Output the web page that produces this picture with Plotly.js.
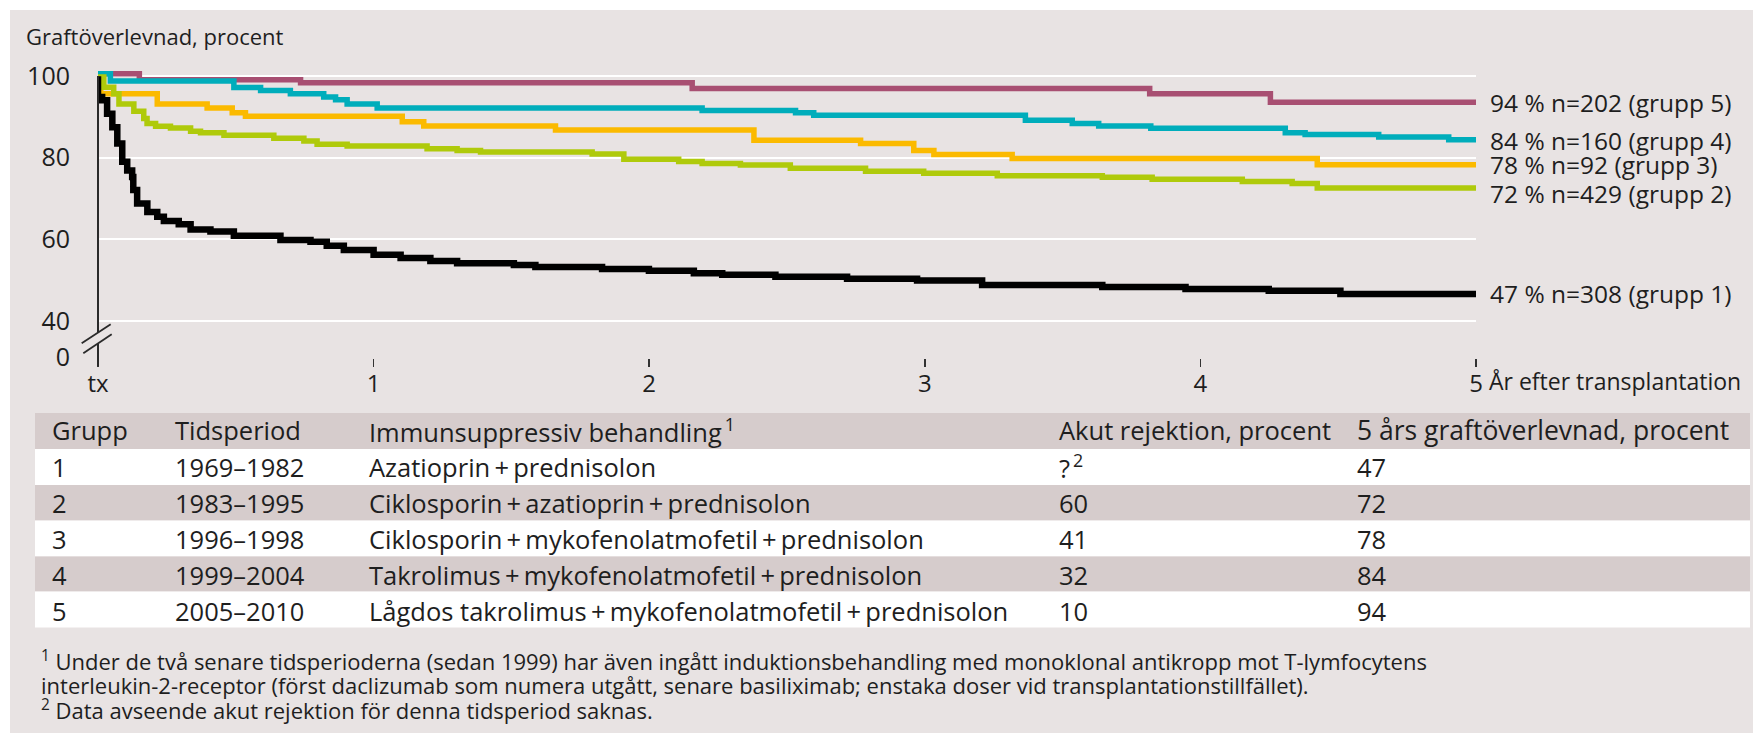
<!DOCTYPE html>
<html><head><meta charset="utf-8">
<script src="https://cdn.plot.ly/plotly-3.0.1.min.js"></script>
<style>html,body{margin:0;padding:0;background:#fff;}#chart{width:1753px;height:736px;}</style>
</head><body><div id="chart"></div>
<script>
// ---------------- DATA ----------------
const groups = ['1', '2', '3', '4', '5'];
const periods = ['1969–1982', '1983–1995', '1996–1998', '1999–2004', '2005–2010'];
const treatments = [
  'Azatioprin\u2009+\u2009prednisolon',
  'Ciklosporin\u2009+\u2009azatioprin\u2009+\u2009prednisolon',
  'Ciklosporin\u2009+\u2009mykofenolatmofetil\u2009+\u2009prednisolon',
  'Takrolimus\u2009+\u2009mykofenolatmofetil\u2009+\u2009prednisolon',
  'Lågdos takrolimus\u2009+\u2009mykofenolatmofetil\u2009+\u2009prednisolon'
];
const acuteRejection = ['?<sup>\u20092</sup>', '60', '41', '32', '10'];
const survival5y = [47, 72, 78, 84, 94];
const nPatients = [308, 429, 92, 160, 202];
const tableHeaders = ['Grupp', 'Tidsperiod', 'Immunsuppressiv behandling<sup>\u20091</sup>', 'Akut rejektion, procent', '5 års graftöverlevnad, procent'];
const xTickVals = [0, 1, 2, 3, 4, 5];
const xTickText = ['tx', '1', '2', '3', '4', '5'];
const yTickText = ['0', '40', '60', '80', '100'];
const yTitle = 'Graftöverlevnad, procent';
const xTitle = 'År efter transplantation';
const footnotes = [
  '<sup>1</sup> Under de två senare tidsperioderna (sedan 1999) har även ingått induktionsbehandling med monoklonal antikropp mot T-lymfocytens',
  'interleukin-2-receptor (först daclizumab som numera utgått, senare basiliximab; enstaka doser vid transplantationstillfället).',
  '<sup>2</sup> Data avseende akut rejektion för denna tidsperiod saknas.'
];

// Kaplan-Meier style curves (years, percent)
const g1_t = [0, 0, 0.015, 0.033, 0.052, 0.07, 0.088, 0.106, 0.124, 0.128, 0.142, 0.179, 0.215, 0.239, 0.293, 0.336, 0.408, 0.493, 0.662, 0.771, 0.83, 0.892, 1.0, 1.098, 1.206, 1.303, 1.509, 1.587, 1.829, 1.999, 2.162, 2.265, 2.458, 2.718, 2.972, 3.208, 3.644, 3.946, 4.248, 4.508, 5];
const g1_v = [100, 94.9, 94.1, 90.8, 87.5, 83.5, 79.0, 76.9, 75.3, 72.1, 68.8, 66.7, 65.5, 64.5, 63.7, 62.4, 61.9, 60.9, 59.8, 59.4, 58.4, 57.4, 56.2, 55.4, 54.7, 54.1, 53.7, 53.2, 52.7, 52.3, 51.7, 51.3, 50.8, 50.3, 49.9, 48.8, 48.3, 47.8, 47.4, 46.6, 46.6];

const g2_t = [0, 0.021, 0.057, 0.076, 0.13, 0.166, 0.178, 0.209, 0.263, 0.336, 0.372, 0.457, 0.638, 0.747, 0.795, 0.904, 1.194, 1.303, 1.388, 1.793, 1.908, 2.107, 2.192, 2.331, 2.512, 2.785, 2.996, 3.263, 3.644, 3.825, 4.152, 4.333, 4.424, 5];
const g2_v = [99.8, 97.3, 95.7, 93.2, 91.4, 89.6, 88.4, 87.7, 87.3, 86.5, 86.1, 85.5, 84.8, 84.1, 83.3, 82.9, 82.2, 81.8, 81.4, 80.9, 79.6, 79.1, 78.6, 78.2, 77.4, 76.7, 76.2, 75.6, 75.2, 74.7, 74.2, 73.7, 72.6, 72.6];

const g3_t = [0, 0.01, 0.215, 0.396, 0.487, 0.535, 1.104, 1.182, 1.66, 2.38, 2.767, 2.96, 3.033, 3.317, 4.424, 5];
const g3_v = [100, 95.7, 93.2, 92.2, 91.0, 90.2, 88.8, 87.8, 86.8, 84.3, 83.5, 81.8, 80.8, 79.8, 78.3, 78.3];

const g4_t = [0, 0.045, 0.493, 0.59, 0.698, 0.819, 0.862, 0.904, 1.013, 2.192, 2.531, 2.597, 3.365, 3.535, 3.631, 3.82, 4.308, 4.38, 4.647, 4.901, 5];
const g4_v = [100.6, 98.8, 97.2, 96.5, 95.7, 94.9, 94.2, 93.2, 92.2, 91.6, 91.0, 90.4, 89.2, 88.4, 87.8, 87.2, 86.1, 85.7, 85.1, 84.4, 84.4];

const g5_t = [0, 0.15, 0.735, 2.156, 3.816, 4.254, 5];
const g5_v = [100.6, 99.1, 98.4, 97.0, 95.7, 93.6, 93.6];

// ---------------- LAYOUT GEOMETRY ----------------
const W = 1753, H = 736;
const M = {l: 98, r: 277, t: 68, b: 378};
const PW = W - M.l - M.r, PH = H - M.t - M.b;
const plotBottom = H - M.b;
const yRange = [30.9, 102];
const yBreakVal = 31.08;
const px = (x) => (x - M.l) / PW;
const py = (y) => (plotBottom - y) / PH;

const FONT = 'Open Sans, Noto Sans, sans-serif';
const TXT = '#1e1e1e';
const PANEL = '#e8e3e3';
const BAND = '#d6cccc';

const colors = ['#000000', '#afca0b', '#fbba00', '#00adbb', '#a84f72'];
const series = [
  {t: g5_t, v: g5_v, c: colors[4], w: 5.5},
  {t: g3_t, v: g3_v, c: colors[2], w: 5.5},
  {t: g4_t, v: g4_v, c: colors[3], w: 5.5},
  {t: g2_t, v: g2_v, c: colors[1], w: 5.5},
  {t: g1_t, v: g1_v, c: colors[0], w: 6.5}
];
const traces = series.map(s => ({
  type: 'scatter', mode: 'lines', x: s.t, y: s.v,
  line: {color: s.c, width: s.w, shape: 'hv'}, hoverinfo: 'skip'
}));

// ---------------- SHAPES ----------------
const shapes = [];
function rect(x0, y0, x1, y1, fill, layer) {
  shapes.push({type: 'rect', xref: 'paper', yref: 'paper', x0: px(x0), x1: px(x1), y0: py(y1), y1: py(y0),
    fillcolor: fill, line: {width: 0}, layer: layer || 'below'});
}
function seg(x0, y0, x1, y1, color, width) {
  shapes.push({type: 'line', xref: 'paper', yref: 'paper', x0: px(x0), x1: px(x1), y0: py(y0), y1: py(y1),
    line: {color: color, width: width}, layer: 'above'});
}
rect(10, 10, W, 733, PANEL);
// table bands
const tableX0 = 35, tableX1 = 1750;
const bandEdges = [413, 449, 485, 520.5, 556.5, 591.5, 627.5];
const bandFill = [BAND, '#ffffff', BAND, '#ffffff', BAND, '#ffffff'];
for (let i = 0; i < 6; i++) rect(tableX0, bandEdges[i], tableX1, bandEdges[i + 1], bandFill[i]);
// y axis line with break marks
seg(M.l, 76, M.l, 333, '#2a2a2a', 2);
seg(M.l, 344, M.l, 366, '#2a2a2a', 2);
seg(81.7, 343.3, 110.7, 324.3, '#2a2a2a', 1.8);
seg(83.3, 353.3, 111.7, 334.3, '#2a2a2a', 1.8);

// ---------------- ANNOTATIONS ----------------
const annotations = [];
function ann(text, x, y, size, anchor) {
  annotations.push({xref: 'paper', yref: 'paper', x: px(x), y: py(y), text: text, showarrow: false,
    xanchor: anchor || 'left', yanchor: 'middle', align: 'left',
    font: {family: FONT, size: size, color: TXT}});
}
ann(yTitle, 24, 36, 22);
ann(xTitle, 1487, 381, 23);
// end labels (group 1..5)
const endLabelY = [293, 193, 164, 140, 102];
groups.forEach((g, i) => ann(survival5y[i] + ' % n=' + nPatients[i] + ' (grupp ' + g + ')', 1488, endLabelY[i], 24.5));
// table
const colX = [50, 173, 367, 1057, 1355];
const headerY = 430;
const rowY = [466.5, 503, 538.5, 575, 611];
const headerSize = [25.5, 25.5, 25.5, 25.5, 26.5];
tableHeaders.forEach((h, j) => ann(h, colX[j], headerY, headerSize[j]));
const cols = [groups, periods, treatments, acuteRejection, survival5y.map(String)];
cols.forEach((col, j) => col.forEach((v, i) => ann(v, colX[j], rowY[i], 25.5)));
// footnotes
const footY = [660, 684.5, 709];
footnotes.forEach((f, i) => ann(f, 39, footY[i], 22));

const layout = {
  width: W, height: H,
  margin: {l: M.l, r: M.r, t: M.t, b: M.b, pad: 0},
  paper_bgcolor: '#ffffff', plot_bgcolor: 'rgba(0,0,0,0)',
  showlegend: false,
  font: {family: FONT, size: 24, color: TXT},
  xaxis: {range: [0, 5], tickvals: xTickVals, ticktext: xTickText, ticks: 'outside', ticklen: 8,
    tickwidth: 1.5, tickcolor: '#333', showgrid: false, zeroline: false, showline: false,
    automargin: false, fixedrange: true, ticklabelstandoff: -4,
    tickfont: {family: FONT, size: 24, color: TXT}},
  yaxis: {range: yRange, tickvals: [yBreakVal, 40, 60, 80, 100], ticktext: yTickText, ticks: '',
    showgrid: true, gridcolor: '#ffffff', gridwidth: 2, zeroline: false, showline: false,
    automargin: false, fixedrange: true, ticklabelstandoff: 27,
    tickfont: {family: FONT, size: 25, color: TXT}},
  shapes: shapes, annotations: annotations
};
Plotly.newPlot('chart', traces, layout, {displayModeBar: false, staticPlot: true});
</script></body></html>
